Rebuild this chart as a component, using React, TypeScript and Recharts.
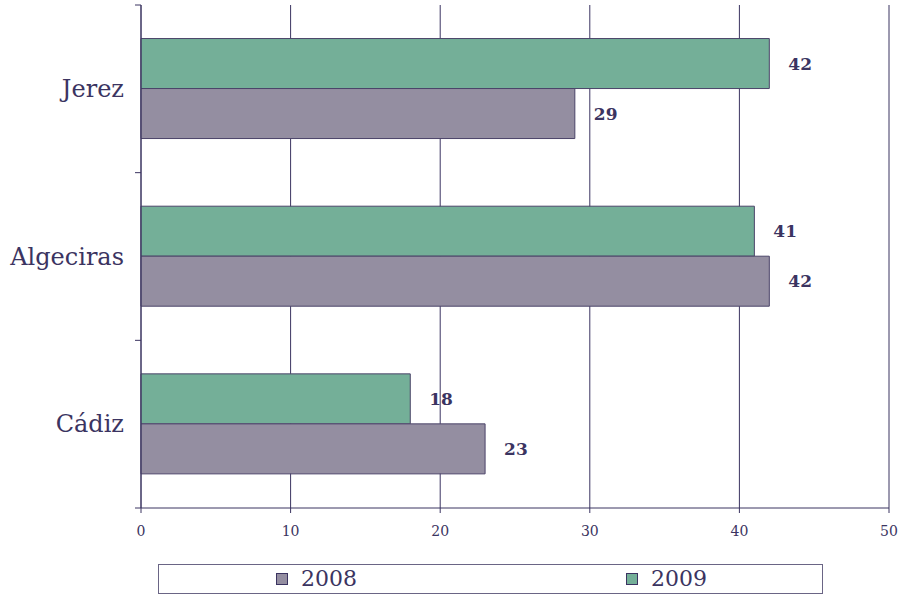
import { BarChart, Bar, XAxis, YAxis, CartesianGrid, LabelList } from 'recharts';

const categories = ['Jerez', 'Algeciras', 'Cádiz'];
const values2009 = [42, 41, 18];
const values2008 = [29, 42, 23];
const xTicks = [0, 10, 20, 30, 40, 50];

const data = categories.map((name, i) => ({
  name,
  y2009: values2009[i],
  y2008: values2008[i],
}));

const INK = '#3b3461';
const GREEN = '#74af98';
const GREY = '#948ea1';
const FONT = '"DejaVu Serif", serif';

function CategoryTick(props: any) {
  const { x, y, payload, index, visibleTicksCount } = props;
  const off = payload?.offset ?? 0;
  return (
    <g>
      <line x1={x + 11} x2={x + 17} y1={y - off} y2={y - off} stroke={INK} />
      {index === visibleTicksCount - 1 && (
        <line x1={x + 11} x2={x + 17} y1={y + off} y2={y + off} stroke={INK} />
      )}
      <text
        x={x}
        y={y}
        textAnchor="end"
        dominantBaseline="central"
        fontSize={24}
        fontFamily={FONT}
        fill={INK}
      >
        {payload.value}
      </text>
    </g>
  );
}

function LegendItem({ color, label, left }: { color: string; label: string; left: number }) {
  return (
    <div
      style={{
        position: 'absolute',
        left,
        top: 0,
        height: 28,
        display: 'flex',
        alignItems: 'center',
      }}
    >
      <span
        style={{
          display: 'inline-block',
          width: 10,
          height: 10,
          background: color,
          border: `1px solid ${INK}`,
          marginRight: 13,
        }}
      />
      <span style={{ fontSize: 22, fontFamily: FONT, color: INK, lineHeight: '28px' }}>{label}</span>
    </div>
  );
}

export default function App() {
  return (
    <div style={{ position: 'absolute', left: 0, top: 0, width: 904, height: 594, background: '#fff' }}>
      <BarChart
        width={904}
        height={594}
        data={data}
        layout="vertical"
        margin={{ top: 5, right: 15, left: 0, bottom: 56 }}
        barCategoryGap="20%"
        barGap={0}
      >
        <CartesianGrid horizontal={false} stroke={INK} strokeWidth={1} />
        <XAxis
          type="number"
          domain={[0, 50]}
          ticks={xTicks}
          interval={0}
          height={30}
          tickSize={5}
          tickMargin={13}
          axisLine={{ stroke: INK }}
          tickLine={{ stroke: INK }}
          tick={{ fontSize: 14, fontFamily: FONT, fill: INK }}
        />
        <XAxis
          xAxisId="top"
          type="number"
          orientation="top"
          domain={[0, 50]}
          height={0}
          tick={false}
          tickLine={false}
          axisLine={{ stroke: INK }}
        />
        <YAxis
          type="category"
          dataKey="name"
          width={141}
          tickSize={6}
          tickMargin={11}
          tickLine={false}
          axisLine={{ stroke: INK }}
          tick={<CategoryTick />}
        />
        <Bar dataKey="y2009" fill={GREEN} stroke="#4b4469" strokeWidth={1} isAnimationActive={false}>
          <LabelList
            dataKey="y2009"
            position="right"
            offset={19}
            fill={INK}
            fontSize={17}
            fontWeight="bold"
            fontFamily={FONT}
          />
        </Bar>
        <Bar dataKey="y2008" fill={GREY} stroke="#4b4469" strokeWidth={1} isAnimationActive={false}>
          <LabelList
            dataKey="y2008"
            position="right"
            offset={19}
            fill={INK}
            fontSize={17}
            fontWeight="bold"
            fontFamily={FONT}
          />
        </Bar>
      </BarChart>
      <div
        style={{
          position: 'absolute',
          left: 158,
          top: 564,
          width: 663,
          height: 28,
          border: '1px solid #6a6585',
          background: '#fff',
        }}
      >
        <LegendItem color={GREY} label="2008" left={117} />
        <LegendItem color={GREEN} label="2009" left={467} />
      </div>
    </div>
  );
}
